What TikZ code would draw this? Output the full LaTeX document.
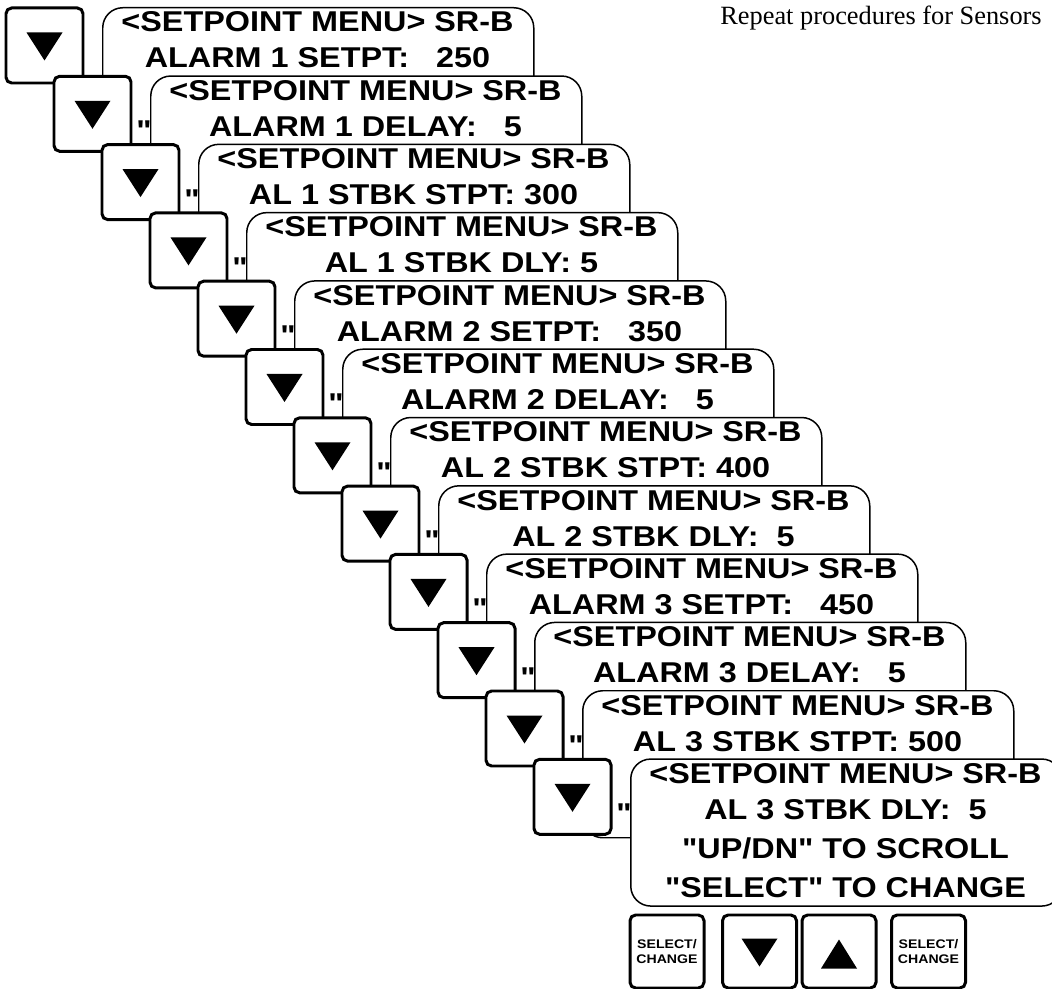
\documentclass[tikz,border=0pt]{standalone}
\usepackage{fontspec}
\newfontfamily\lcdfont[FakeStretch=1.13]{Liberation Sans}
\newfontfamily\notefont{Liberation Serif}
\usetikzlibrary{positioning}
\tikzset{
  btn/.style={draw,line width=1.7pt,rounded corners=3.2pt,fill=white,inner sep=0pt,
    minimum width=15.4mm,minimum height=15mm},
  keybtn/.style={btn,minimum width=14.8mm,minimum height=14.6mm,align=center,
    font=\lcdfont\bfseries\fontsize{7.1}{8.5}\selectfont},
  scr/.style={draw,line width=0.85pt,fill=white,rounded corners=4mm,inner sep=0pt,
    minimum width=86.2mm,minimum height=29.4mm,anchor=north west},
  lcd/.style={font=\lcdfont\bfseries\fontsize{16.3}{19}\selectfont,anchor=base,inner sep=0pt},
  qmark/.style={lcd,anchor=base east},
  note/.style={font=\notefont\fontsize{15}{18}\selectfont,anchor=base west,inner sep=0pt},
  % key symbols
  pics/dnarrow/.style={code={\fill (-18,-13) -- (18,-13) -- (0,15) -- cycle;}},
  pics/uparrow/.style={code={\fill (-18,17) -- (18,17) -- (0,-12) -- cycle;}},
}
\begin{document}
\begin{tikzpicture}[x=0.2mm,y=-0.2mm]
  \useasboundingbox (0,0) rectangle (1052,989);
  \foreach \i/\val in {0/{ALARM 1 SETPT:\ \ \ 250},1/{ALARM 1 DELAY:\ \ \ 5},
      2/{AL 1 STBK STPT: 300},3/{AL 1 STBK DLY: 5},4/{ALARM 2 SETPT:\ \ \ 350},
      5/{ALARM 2 DELAY:\ \ \ 5},6/{AL 2 STBK STPT: 400},7/{AL 2 STBK DLY:\ \ 5},
      8/{ALARM 3 SETPT:\ \ \ 450},9/{ALARM 3 DELAY:\ \ \ 5},10/{AL 3 STBK STPT: 500},
      11/{AL 3 STBK DLY:\ \ 5}}{
    \node[btn] (b\i) at (44.5+48*\i,45.5+68.3*\i) {};
    \pic at (b\i) {dnarrow};
    \ifnum\i>0 \node[qmark] (q\i) at (104+48*\i,72.5+68.3*\i) {"}; \fi
    \node[scr] (s\i) at (102+48*\i,7+68.3*\i) {};
    \node[lcd] (t\i) at (317.5+48*\i,32+68.3*\i) {<SETPOINT MENU> SR-B};
    \node[lcd] (v\i) at (317.5+48*\i,68+68.3*\i) {\val};
  }
  \node[lcd] (h1) at (845.5,858) {"UP/DN" TO SCROLL};
  \node[lcd] (h2) at (845.5,897) {"SELECT" TO CHANGE};
  % keypad
  \node[keybtn] (sel1) at (667,951.5) {SELECT/\\CHANGE};
  \node[keybtn] (dn) at (759.5,951.5) {};
  \node[keybtn] (up) at (839,951.5) {};
  \node[keybtn] (sel2) at (928.5,951.5) {SELECT/\\CHANGE};
  \pic at (dn) {dnarrow};
  \pic at (up) {uparrow};
  \node[note] (rep) at (720,25) {Repeat procedures for Sensors};
\end{tikzpicture}
\end{document}
